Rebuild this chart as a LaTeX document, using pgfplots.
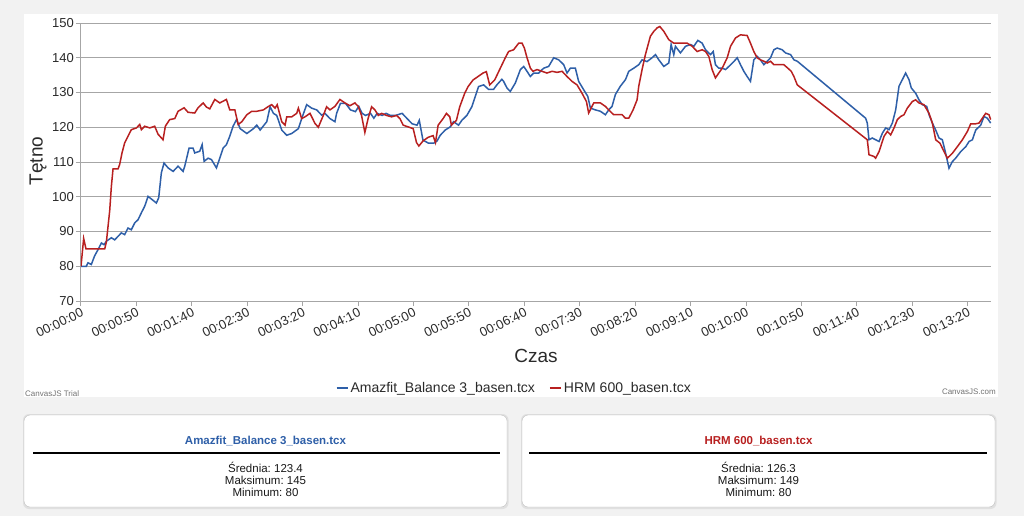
\documentclass[border=0pt]{standalone}
\usepackage{pgfplots}
\pgfplotsset{compat=1.18}
\usepackage{fontspec}
\setmainfont{Liberation Sans}
\definecolor{bgc}{HTML}{F2F2F2}
\definecolor{hrblue}{HTML}{2E5FA8}
\definecolor{hrred}{HTML}{B82020}
\definecolor{gridc}{HTML}{A6A6A6}
\definecolor{txt}{HTML}{2A2A2A}
\begin{document}
\frenchspacing
\begin{tikzpicture}[x=1pt,y=1pt]
\fill[bgc] (0,0) rectangle (1024,-516);
\fill[white] (24,-14) rectangle (998,-397);
% cards
\fill[black!12, rounded corners=6pt] (23,-414) rectangle (508.5,-509);
\fill[black!12, rounded corners=6pt] (521,-414) rectangle (996.5,-509);
\draw[black!25, fill=white, rounded corners=6pt] (24,-415) rectangle (507,-507);
\draw[black!25, fill=white, rounded corners=6pt] (522,-415) rectangle (995,-507);
\node[font=\bfseries\fontsize{11.5}{12}\selectfont, text=hrblue] at (265.5,-441.5) {Amazfit\_Balance 3\_basen.tcx};
\draw[black, line width=1.5pt] (33,-453) -- (500,-453);
\node[font=\fontsize{11.5}{12.2}\selectfont, align=center, text=black!90] at (265.5,-479.5) {Średnia: 123.4\\Maksimum: 145\\Minimum: 80};
\node[font=\bfseries\fontsize{11.5}{12}\selectfont, text=hrred] at (758.5,-441.5) {HRM 600\_basen.tcx};
\draw[black, line width=1.5pt] (529,-453) -- (987,-453);
\node[font=\fontsize{11.5}{12.2}\selectfont, align=center, text=black!90] at (758.5,-479.5) {Średnia: 126.3\\Maksimum: 149\\Minimum: 80};
\node[anchor=south west, font=\fontsize{8}{8}\selectfont, text=black!55, inner sep=1pt] at (24,-398) {CanvasJS Trial};
\node[anchor=south east, font=\fontsize{8}{8}\selectfont, text=black!55, inner sep=1pt] at (997,-396) {CanvasJS.com};
\begin{axis}[
  at={(81pt,-301pt)}, anchor=south west, scale only axis,
  width=910pt, height=278pt,
  xmin=0, xmax=821, ymin=70, ymax=150,
  xtick={0,50,...,800},
  xticklabels={00:00:00,00:00:50,00:01:40,00:02:30,00:03:20,00:04:10,00:05:00,00:05:50,00:06:40,00:07:30,00:08:20,00:09:10,00:10:00,00:10:50,00:11:40,00:12:30,00:13:20},
  ytick={70,80,...,150},
  axis x line*=bottom, axis y line*=left,
  ymajorgrids, grid style={gridc, line width=1pt},
  axis line style={gridc, line width=1pt},
  tick style={gridc, line width=1pt},
  major tick length=5pt, tick align=outside,
  /pgf/number format/assume math mode=true,
  yticklabel style={font=\fontsize{13}{13}\selectfont, text=txt, inner sep=2pt},
  xticklabel style={font=\fontsize{13}{13}\selectfont, text=txt, rotate=26, anchor=north east, inner sep=1pt},
  xlabel={Czas}, ylabel={Tętno},
  xlabel style={at={(axis description cs:0.5,-0.198)}, anchor=center, font=\fontsize{19}{19}\selectfont, text=txt},
  ylabel style={at={(axis description cs:-0.0473,0.504)}, anchor=center, font=\fontsize{19}{19}\selectfont, text=txt},
  legend style={at={(axis description cs:0.476,-0.313)}, anchor=center, draw=none, fill=none,
    font=\fontsize{14}{14}\selectfont, text=txt, legend columns=2,
    /tikz/every even column/.append style={column sep=12pt}},
  legend image code/.code={\draw[#1, line width=2pt] (0pt,0pt) -- (11pt,0pt);},
]
\addplot[hrblue, line width=1.5pt] coordinates {
(0,80) (4.8,80) (6.3,81) (9.3,80.5) (12.3,83) (15.4,84.8) (18.4,86.7) (20.8,86.2) (22.9,87.2)
(27.4,88.2) (30.4,87.6) (33.4,88.6) (36.4,89.6) (39.4,89.1) (42.4,91) (45.4,90.5) (48.5,92.5)
(51.5,93.4) (54.5,95.4) (57.5,97.3) (60.5,100.1) (64.1,99.2) (68,98.2) (70.1,99.7) (72.5,106.9)
(74.9,109.7) (78.6,108.3) (83.1,107.3) (87.6,108.8) (92.1,107.3) (93.6,108.8) (97.5,114) (101.1,114)
(102.6,112.6) (107.1,113.1) (109.3,115) (111.1,110.2) (114.7,111.1) (117.7,110.7) (122.2,108.3)
(125.2,111.1) (128.2,114) (131.2,115) (134.2,117.4) (137.2,120.3) (140.3,122.2) (143.6,119.6)
(149.6,118.2) (155.6,119.6) (158.6,120.6) (161.6,119.2) (167.6,121.6) (170.6,125.9) (173.6,124)
(176.6,123.4) (181.1,119.2) (185.6,117.7) (190.1,118.2) (196.1,119.6) (199.1,122.5) (203.6,126.5)
(208.1,125.5) (212.6,125) (217.1,123.5) (220.1,124) (224.6,122.5) (229.1,121.6) (230.6,124)
(234.1,126.9) (238.6,126.9) (243.1,125) (247.6,124.5) (250.6,126) (253.6,124) (256.7,123.4)
(261.2,124) (264.2,122.6) (267.2,124) (271.7,123.4) (275.2,124) (279.2,123.4) (283.7,123.4)
(289.7,124) (294.2,122.5) (298.7,121) (303.2,120.6) (305.2,122) (308.5,116.3) (313.6,115.4)
(318.1,115.4) (321.1,116) (324.1,117.7) (328.6,119.2) (333.1,120.1) (336.1,121.6) (340.6,120.6)
(343.6,122) (348.1,123.4) (352.6,125.9) (355.6,128.8) (358.7,131.7) (363.2,132.2) (367.7,130.9)
(372.2,130.9) (375.2,132.2) (379.7,133.8) (381.3,133.2) (384.3,131.3) (387.3,130.3) (391.8,132.7)
(396.4,136.6) (399.4,137.5) (402.4,136.1) (405.4,134.6) (408.4,135.6) (412.9,135.6) (417.4,137)
(421.9,137.5) (426.5,140) (431,139.4) (435.5,138) (438.5,135.6) (441.5,137) (446,137) (449,133.2)
(453.5,130.8) (457.2,128.9) (459.6,125.5) (464.1,125) (468.6,124.6) (473.1,123.6) (476.1,125)
(479.1,126) (482.1,129.4) (486.6,131.8) (491.2,133.7) (494.2,136.1) (498.7,137) (503.2,138)
(506.2,139.4) (510.7,138.9) (515.2,140) (518.3,140.9) (521.3,139.4) (525.8,137.5) (530.3,138.5)
(532.4,143.8) (534.8,140.9) (536.3,143.3) (540.8,141.4) (545.4,143.3) (549.9,143.8) (552.9,143.3)
(556.5,145) (560.4,144.2) (563.4,142.3) (567.9,140.9) (570.4,141.8) (572.4,138) (575.4,137)
(578.5,137) (581.5,136.6) (584.5,137.5) (589,138.9) (592,140) (595,138) (598,136.1) (601,134.6)
(604,133.2) (607,139.4) (610,140.4) (613,139.4) (616.1,138) (619.1,139) (622.1,140) (625.1,142.3)
(628.1,142.8) (632.6,142.3) (635.6,141.4) (640.2,140.9) (643.2,139.4) (646.2,139) (707.9,122.6)
(709.4,121.2) (710.9,116.4) (713.9,116.9) (716.9,116.4) (720,115.9) (723,118.3) (726,119.8)
(729,119.3) (732,121.2) (735,125) (738,131.8) (741,133.7) (744,135.6) (747,133.7) (749.1,131.3)
(753,129.8) (756,127.9) (759,126.5) (763,126) (765.1,123.6) (768.1,121.2) (771.1,119.2)
(774.1,116.9) (777.1,116.4) (780.1,112.5) (783.1,108.2) (786.1,110.1) (789.1,111.1) (793.7,113)
(798.2,114.4) (801.2,115.9) (804.2,116.4) (807.2,119.2) (811.7,120.6) (814.7,123.1) (817.7,122.6)
(820.7,121.2)
};
\addlegendentry{Amazfit\_Balance 3\_basen.tcx}
\addplot[hrred, line width=1.5pt] coordinates {
(0,80) (2.4,88) (4.5,85) (21.4,85) (22.9,87) (25.9,96) (27.4,103) (28.9,108) (33.4,108)
(34.9,109.3) (37,112.6) (39.4,115.5) (42.4,117.4) (45.4,119.3) (50,119.8) (53,120.8) (54.5,119.3)
(57.5,120.3) (62,119.8) (66.5,120.3) (69.5,118) (74,116.4) (76.1,120.3) (80,122.2) (84.6,122.5)
(87.6,124.6) (93,125.6) (96.6,124.3) (102.6,124.1) (105.6,125.6) (110.2,127) (113.2,125.8)
(116.2,125.3) (120.7,128) (125.2,127) (131.2,128) (134.2,125) (138.8,125) (141.8,120.8)
(145.1,121.6) (149.6,123.6) (154.1,124.6) (158.6,124.6) (164.6,125) (169.1,126) (172.1,126.5)
(175.1,125.5) (177,126.5) (181.1,121.6) (184.1,120.6) (185.6,123) (190.1,123) (194.6,124)
(196.1,125.5) (199.1,122.5) (202.1,123) (206.6,124) (211.1,121.1) (214.1,120) (218.6,123.4)
(221.6,125.9) (224.6,125) (229.1,126) (233.6,128) (238.1,127) (242.6,126.2) (247.1,127)
(250.1,126) (253.1,123.4) (256.1,118.5) (259.1,122.6) (262.2,125.9) (265.2,125) (268.2,123.4)
(271.2,124) (275.7,123.4) (280.2,123) (284.7,123.4) (287.7,122.5) (290.7,120.6) (295.2,120.1)
(299.7,119.6) (302.7,115.6) (304.8,114.6) (308.7,116.1) (313.2,117.1) (317.7,117.6) (319.8,115.6)
(322.2,120.6) (326.7,122.5) (329.7,124) (332.7,123) (334.2,120.6) (338.7,122) (341.7,125.9)
(346.2,129.8) (349.2,131.7) (353.7,133.6) (358.2,134.6) (362.7,135.6) (365.7,136) (368.7,132.2)
(373.2,133.6) (377.7,136.6) (382.8,140) (385.8,141.8) (390.3,142.3) (394.9,144.2) (397.9,144.2)
(400,142.8) (402.4,140) (405.4,137) (407.8,136.1) (411.4,136.6) (415.9,136.1) (420.4,135.6)
(425,136.1) (429.5,135.8) (434,136.1) (438.5,134.6) (443,133.2) (447.5,132.2) (452,129.8)
(456,127.4) (458,124.1) (462.6,127) (468.6,127) (473.1,126) (476.1,125) (480.6,123.6)
(485.1,123.6) (488.2,123.6) (491.2,122.6) (494.2,122.6) (498.1,125) (501.7,127.9) (503.2,131.8)
(506.2,136.6) (509.2,140.9) (513.7,146.2) (516.8,147.6) (519.8,148.6) (522.2,149) (525.8,147.6)
(530.3,145.2) (534.8,144.2) (546.9,144.2) (551.4,143.3) (555.9,141.8) (560.4,142.3) (563.4,141.8)
(566.4,140.4) (569.4,136.6) (572.4,134.2) (575.4,135.6) (578.5,137) (583,140) (586,143.3)
(590.5,145.7) (595,146.6) (601,146.4) (604,144.2) (607,141.8) (610,140) (613,139.4) (616.1,139)
(619.1,138.5) (622.1,139) (625.1,138) (634.1,138) (637.7,137) (640.8,136.1) (643.2,134.6)
(646.2,132.2) (709.4,116.4) (710.9,112.1) (715.4,111.6) (716.9,111.1) (720,113) (724.5,117.4)
(727.5,118.8) (730.5,117.8) (733.5,119.8) (736.5,122.2) (739.5,123.1) (742.5,123.6) (745.5,125.5)
(750,127.4) (753,127.9) (756,127) (760.5,126.5) (765.1,124) (768.1,121.2) (771.1,116.4) (775,115.4)
(778.6,113) (781.6,111.1) (786.1,112.5) (790.6,114.4) (795.2,116.4) (799.7,118.8) (802.7,121)
(807.2,121) (810.2,121.2) (813.2,122.6) (816.2,124) (819.2,123.6) (820.7,122.2)
};
\addlegendentry{HRM 600\_basen.tcx}
\end{axis}
\end{tikzpicture}
\end{document}
